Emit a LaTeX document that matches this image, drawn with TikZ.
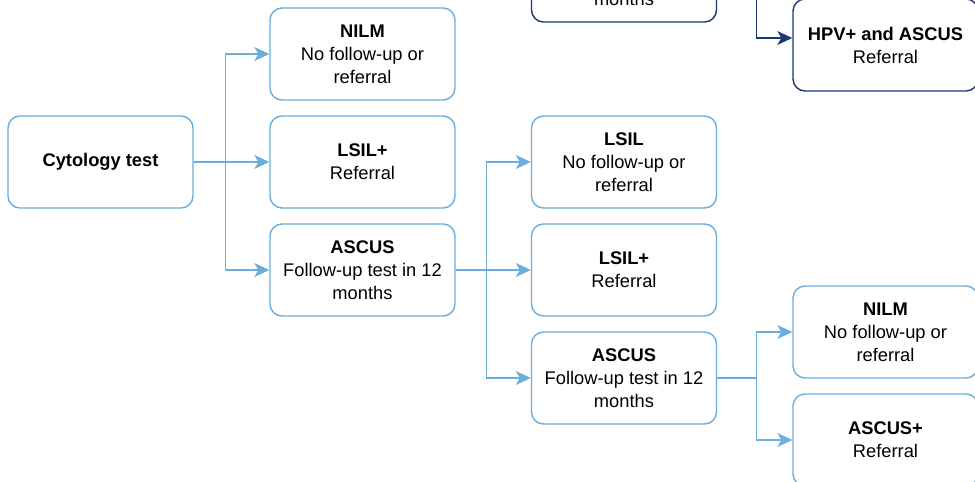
\documentclass[tikz,border=0pt]{standalone}
\usepackage{fontspec}
\setmainfont{Liberation Sans}
\usetikzlibrary{arrows.meta}
\definecolor{flowblue}{RGB}{108,174,219}
\definecolor{flownavy}{RGB}{28,58,112}
\tikzset{
  stepbox/.style={draw=flowblue, line width=1.4pt, rounded corners=12pt,
    minimum width=185pt, minimum height=92pt, align=center,
    font=\fontsize{18.3}{23}\selectfont, inner sep=2pt},
  navybox/.style={stepbox, draw=flownavy},
  conn/.style={draw=flowblue, line width=1.4pt,
    -{Stealth[length=15pt,width=14pt,inset=4pt,line width=0pt]}},
  navyconn/.style={conn, draw=flownavy},
  lbl/.style={font=\fontsize{18.3}{23}\selectfont, inner sep=0pt}
}
\begin{document}
\begin{tikzpicture}[x=1pt,y=-1pt]
\useasboundingbox (0,0) rectangle (975,482);
\clip (0,0) rectangle (975,482);
\fill[white] (0,0) rectangle (975,482);

% first stage
\node[stepbox] (cyt) at (100.5,162) {\textbf{Cytology test}};
\node[stepbox] (nilm1) at (362.5,54) {\textbf{NILM}\\No follow-up or\\referral};
\node[stepbox] (lsilp1) at (362.5,162) {\textbf{LSIL+}\\Referral};
\node[stepbox] (ascus1) at (362.5,270) {\textbf{ASCUS}\\Follow-up test in 12\\months};

% second stage
\node[stepbox] (lsil2) at (624,162) {\textbf{LSIL}\\No follow-up or\\referral};
\node[stepbox] (lsilp2) at (624,270) {\textbf{LSIL+}\\Referral};
\node[stepbox] (ascus2) at (624,378) {\textbf{ASCUS}\\Follow-up test in 12\\months};

% third stage
\node[stepbox] (nilm3) at (885.5,332) {\textbf{NILM}\\No follow-up or\\referral};
\node[stepbox] (ascusp3) at (885.5,440) {\textbf{ASCUS+}\\Referral};

% HPV branch
\node[navybox] (hpvtest) at (624,-24) {};
\node[lbl] (hpvmonths) at (624,-1) {months};
\node[navybox] (hpvref) at (885.5,45) {\textbf{HPV+ and ASCUS}\\Referral};

% connectors
\draw[conn] (cyt.east) -- ++(32,0) |- (nilm1.west);
\draw[conn] (cyt.east) -- ++(32,0) |- (lsilp1.west);
\draw[conn] (cyt.east) -- ++(32,0) |- (ascus1.west);

\draw[conn] (ascus1.east) -- ++(31,0) |- (lsil2.west);
\draw[conn] (ascus1.east) -- ++(31,0) |- (lsilp2.west);
\draw[conn] (ascus1.east) -- ++(31,0) |- (ascus2.west);

\draw[conn] (ascus2.east) -- ++(39,0) |- (nilm3.west);
\draw[conn] (ascus2.east) -- ++(39,0) |- (ascusp3.west);

\draw[navyconn] (hpvtest.east) -- ++(39,0) |- ([yshift=7pt]hpvref.west);
\end{tikzpicture}
\end{document}
